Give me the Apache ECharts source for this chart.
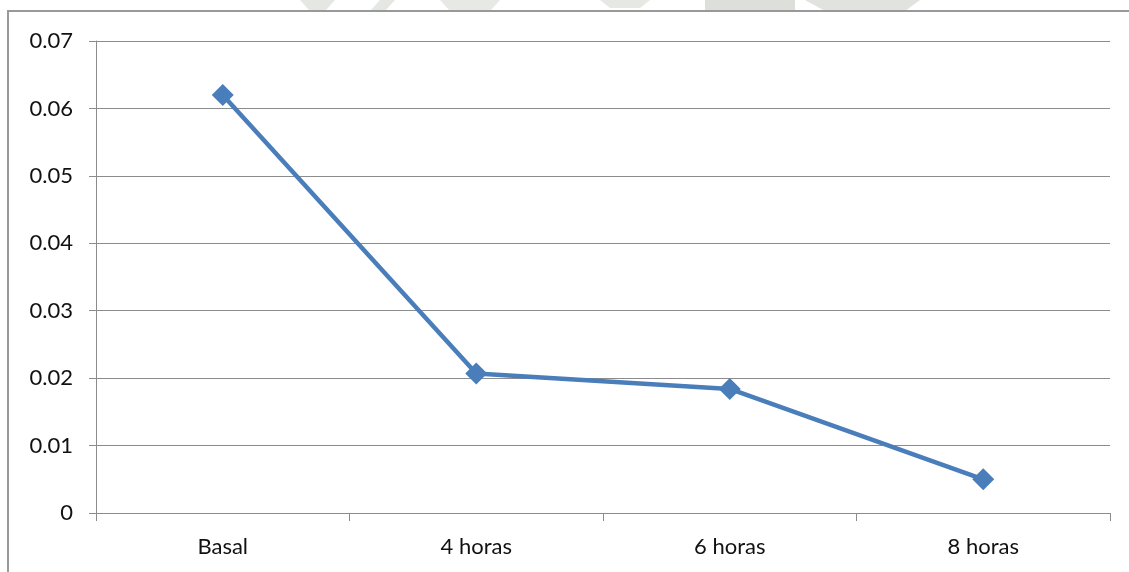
<!DOCTYPE html>
<html>
<head>
<meta charset="utf-8">
<script src="https://cdn.jsdelivr.net/npm/echarts@6/dist/echarts.min.js"></script>
<style>
  html, body { margin: 0; padding: 0; background: #fff; }
  #chart { width: 1129px; height: 572px; }
</style>
</head>
<body>
<div id="chart"></div>
<script>
// Time points and measured values
const categories = ['Basal', '4 horas', '6 horas', '8 horas'];
const values = [0.062, 0.0207, 0.0184, 0.005];
const yTicks = { min: 0, max: 0.07, step: 0.01 };

const chart = echarts.init(document.getElementById('chart'), null, { renderer: 'canvas' });
const font = 'Lato, "Open Sans", sans-serif';
const axisGray = '#8c8c8c';

chart.setOption({
  backgroundColor: '#ffffff',
  animation: false,
  grid: { left: 96, right: 19, top: 41, bottom: 59, containLabel: false },
  xAxis: {
    type: 'category',
    data: categories,
    boundaryGap: true,
    axisLine: { show: true, lineStyle: { color: axisGray, width: 1 } },
    axisTick: { show: true, length: 8, interval: 0, lineStyle: { color: axisGray } },
    axisLabel: { color: '#111111', fontSize: 22, fontFamily: font, margin: 23 },
    splitLine: { show: false }
  },
  yAxis: {
    type: 'value',
    min: yTicks.min,
    max: yTicks.max,
    interval: yTicks.step,
    axisLine: { show: true, lineStyle: { color: axisGray, width: 1 } },
    axisTick: { show: true, length: 7, lineStyle: { color: axisGray } },
    axisLabel: {
      color: '#111111', fontSize: 22, fontFamily: font, margin: 23,
      formatter: v => (Math.round(v * 100) / 100).toString()
    },
    splitLine: { show: true, lineStyle: { color: axisGray, width: 1 } }
  },
  series: [{
    type: 'line',
    data: values,
    symbol: 'diamond',
    symbolSize: 22,
    lineStyle: { color: '#4a7ebb', width: 4.5 },
    itemStyle: { color: '#4a7ebb' },
    emphasis: { disabled: true }
  }],
  graphic: [
    // faint logo shapes along the top edge
    { type: 'polygon', silent: true, shape: { points: [[300,0],[335,0],[325,11],[310,11]] }, style: { fill: '#e4e7e2' } },
    { type: 'polygon', silent: true, shape: { points: [[380,0],[395,0],[385,11],[370,11]] }, style: { fill: '#e4e7e2' } },
    { type: 'polygon', silent: true, shape: { points: [[440,0],[500,0],[490,11],[450,11]] }, style: { fill: '#e7e9e5' } },
    { type: 'polygon', silent: true, shape: { points: [[600,0],[650,0],[640,8],[610,8]] }, style: { fill: '#e6e8e4' } },
    { type: 'rect', silent: true, shape: { x: 705, y: 0, width: 90, height: 11 }, style: { fill: '#dde0da' } },
    { type: 'polygon', silent: true, shape: { points: [[805,0],[920,0],[905,11],[825,11]] }, style: { fill: '#e1e4de' } },
    // outer frame
    { type: 'rect', silent: true, shape: { x: 8, y: 11, width: 1200, height: 700 }, style: { fill: 'none', stroke: '#999999', lineWidth: 2 } }
  ]
});
</script>
</body>
</html>
